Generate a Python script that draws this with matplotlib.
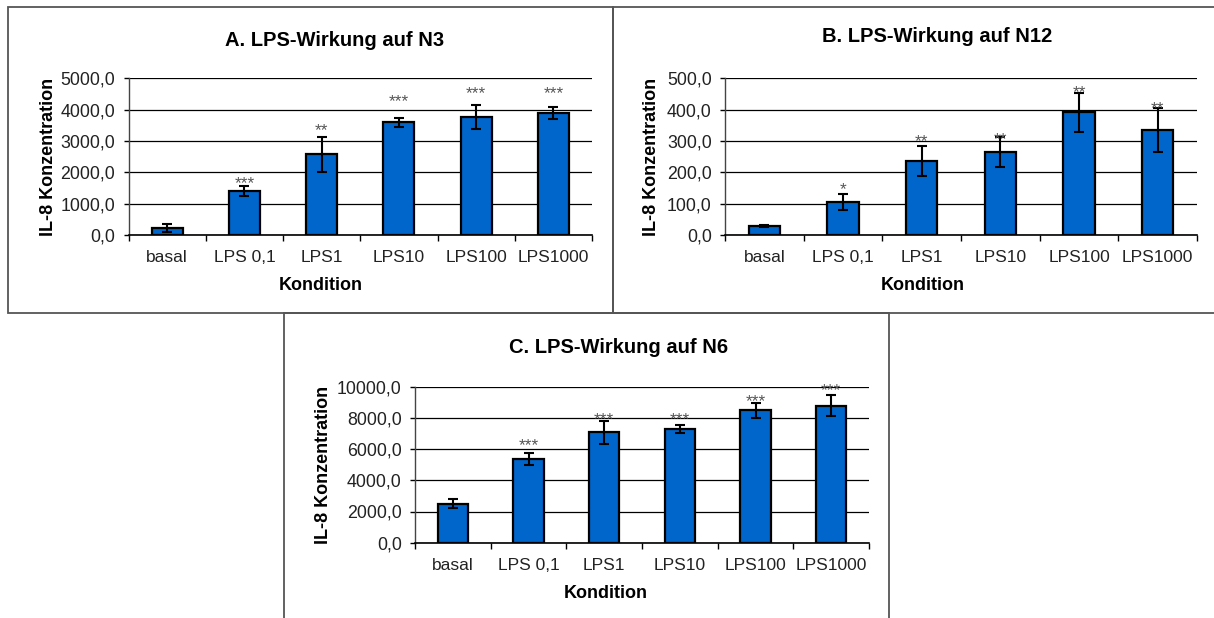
import numpy as np
import matplotlib
matplotlib.use("Agg")
import matplotlib.pyplot as plt
from matplotlib.patches import Rectangle
from matplotlib.ticker import FuncFormatter, FixedLocator

plt.rcParams['font.family'] = ['Liberation Sans', 'DejaVu Sans']

# Data
categories = ['basal', 'LPS 0,1', 'LPS1', 'LPS10', 'LPS100', 'LPS1000']

means_a = [230, 1400, 2580, 3600, 3760, 3900]
err_a = [120, 150, 560, 140, 390, 200]
stars_a = ['', '***', '**', '***', '***', '***']
star_y_a = [0, 1820, 3510, 4410, 4680, 4680]

means_b = [28, 106, 236, 265, 391, 336]
err_b = [3, 26, 48, 48, 63, 70]
stars_b = ['', '*', '**', '**', '**', '**']
star_y_b = [0, 162, 314, 321, 471, 420]

means_c = [2500, 5360, 7070, 7290, 8480, 8780]
err_c = [300, 360, 750, 250, 490, 690]
stars_c = ['', '***', '***', '***', '***', '***']
star_y_c = [0, 6540, 8250, 8250, 9360, 10100]

W, H = 1214, 618
fig = plt.figure(figsize=(W / 100, H / 100), dpi=100)


def fx(px):
    return px / W


def fy(py):
    return 1 - py / H


def comma_fmt(v, pos):
    return f"{v:.1f}".replace('.', ',')


def panel(box, axbox, title, title_xy, ylab_x, klab_xy, means, errs, stars, star_y, ymax, step):
    # panel frame
    x0, y0, x1, y1 = box
    fig.patches.append(Rectangle((fx(x0), fy(y1)), fx(x1 - x0), (y1 - y0) / H,
                                 transform=fig.transFigure, fill=False,
                                 edgecolor='#555555', lw=1.3))
    l, t, r, b = axbox
    ax = fig.add_axes([fx(l), fy(b), fx(r - l), (b - t) / H])
    x = np.arange(len(categories))
    ax.bar(x, means, width=0.4, color='#0066cc', edgecolor='black', lw=1.6, zorder=2)
    ax.errorbar(x, means, yerr=errs, fmt='none', ecolor='black', elinewidth=1.5,
                capsize=3.3, capthick=1.5, zorder=3)
    for xi, s, sy in zip(x, stars, star_y):
        if s:
            ax.annotate(s, (xi, sy), xytext=(0, -7), textcoords='offset points',
                        ha='center', va='baseline', fontsize=12.5, color='#555555',
                        zorder=4, annotation_clip=False)
    ax.set_xlim(-0.5, len(categories) - 0.5)
    ax.set_ylim(0, ymax)
    ax.set_yticks(np.arange(0, ymax + step / 2, step))
    ax.yaxis.set_major_formatter(FuncFormatter(comma_fmt))
    ax.yaxis.grid(True, color='black', lw=0.9)
    ax.set_axisbelow(True)
    ax.xaxis.set_major_locator(FixedLocator(np.arange(-0.5, len(categories), 1.0)))
    ax.xaxis.set_major_formatter(FuncFormatter(lambda v, p: ''))
    ax.xaxis.set_minor_locator(FixedLocator(x))
    ax.set_xticklabels(categories, minor=True)
    ax.tick_params(axis='x', which='major', length=4.5, width=1, direction='out', color='black')
    ax.tick_params(axis='x', which='minor', length=0, pad=11, labelsize=12.5, labelcolor='#222222')
    ax.tick_params(axis='y', length=3.6, width=1, direction='out', pad=6,
                   labelsize=12.8, labelcolor='#222222')
    for side in ['top', 'right']:
        ax.spines[side].set_visible(False)
    ax.spines['left'].set_color('#444444')
    ax.spines['left'].set_linewidth(1.0)
    ax.spines['bottom'].set_color('black')
    ax.spines['bottom'].set_linewidth(1.2)
    fig.text(fx(title_xy[0]), fy(title_xy[1]), title, ha='center', va='center',
             fontsize=14.5, fontweight='bold')
    fig.text(fx(ylab_x), fy((t + b) / 2), 'IL-8 Konzentration', rotation=90,
             ha='center', va='center', fontsize=13, fontweight='bold')
    fig.text(fx(klab_xy[0]), fy(klab_xy[1]), 'Kondition', ha='center', va='center',
             fontsize=13, fontweight='bold')
    return ax


panel((8, 7, 613, 313), (128.5, 78.3, 592, 235), 'A. LPS-Wirkung auf N3', (335, 41),
      49, (321, 285), means_a, err_a, stars_a, star_y_a, 5000, 1000)
panel((613, 7, 1218, 313), (725, 78.3, 1197, 235), 'B. LPS-Wirkung auf N12', (937, 37),
      652, (923, 285), means_b, err_b, stars_b, star_y_b, 500, 100)
panel((284, 313, 889, 622), (415, 386.7, 869, 542.7), 'C. LPS-Wirkung auf N6', (619, 347),
      324, (606, 593), means_c, err_c, stars_c, star_y_c, 10000, 2000)

fig.savefig('out.png', dpi=100, facecolor='white')
